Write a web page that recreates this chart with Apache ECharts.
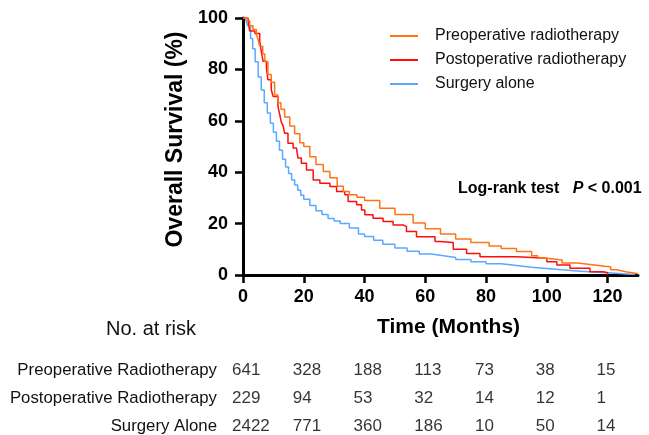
<!DOCTYPE html>
<html>
<head>
<meta charset="utf-8">
<script src="https://cdn.jsdelivr.net/npm/echarts@6/dist/echarts.min.js"></script>
<style>
  html, body { margin: 0; padding: 0; background: #fff; }
  #chart { width: 649px; height: 435px; }
</style>
</head>
<body>
<div id="chart"></div>
<script>
// survival curves (months, %)
const preopTime = [0, 1.5, 2.2, 3.3, 4.4, 5, 5.5, 6.5, 7.2, 8.2, 9.3, 10.4, 11.5, 12.5, 13.7, 15.4, 17, 18.7, 20, 22, 24, 26.4, 28.6, 31, 33, 35, 37.5, 40, 45, 50, 56, 60, 65, 70, 75, 81, 85, 90, 95, 97, 100, 105, 110, 115, 119, 121, 123, 126, 128, 130]
const preopSurv = [100, 99, 97, 95.5, 93.5, 91.5, 89, 86, 83, 78, 75, 70, 67, 64.5, 61.5, 58, 55, 51.5, 50, 46, 43, 40.3, 37.8, 34.5, 32.5, 31.2, 30.3, 29, 26, 23.5, 20.2, 18, 16, 14, 12.6, 11.3, 10.3, 9.1, 7.5, 6.5, 5.8, 4.7, 4, 3.4, 3.2, 2, 1.3, 0.9, 0.5, 0.3]

const postopTime = [0, 1.7, 2.2, 3.9, 5.5, 6.1, 6.6, 7.7, 8.2, 9.3, 9.9, 11.5, 12.1, 12.6, 13.2, 13.7, 14.8, 16.5, 17.6, 18.1, 19.2, 20.9, 23.1, 25.3, 28.6, 30.8, 33.5, 34.6, 37.4, 39, 40.1, 42.8, 46.1, 49.4, 52.7, 53.8, 57.1, 63.2, 64.8, 69.2, 73.6, 78, 90, 100, 103.3, 107.6, 114.2, 118.6, 120]
const postopSurv = [100, 98.8, 94.9, 94, 91, 86.4, 83.2, 80.6, 76, 72.1, 69.5, 65.6, 62.4, 59.5, 58, 55.2, 51.3, 49.4, 48.7, 45.5, 43.5, 40.9, 37, 35.7, 34.4, 32.5, 31.2, 28.6, 27.3, 25.3, 23.4, 22.1, 20.8, 19.5, 18.8, 16.9, 14.9, 13, 12.6, 10, 8.4, 7.1, 6.5, 5.2, 3.9, 2.6, 1.3, 0.9, 0]

const surgTime = [0, 1, 1.5, 2.5, 3.2, 4, 5, 6, 7, 8, 9, 10, 11, 12, 13, 14, 15, 16, 17, 18, 19, 20, 22, 24, 26, 28, 30, 32, 35, 38, 40, 43, 46, 50, 54, 58, 62, 66, 70, 75, 80, 85, 90, 95, 100, 105, 110, 115, 120, 125, 129]
const surgSurv = [100, 99, 97, 92, 88, 83, 77, 72, 67, 63, 59, 55.5, 52, 48.5, 45, 42, 39.5, 37, 35, 33, 31, 29.5, 27, 25, 23.5, 22, 21, 20, 18.3, 16, 15, 13.5, 12, 10.5, 9.2, 8.2, 7.5, 6.8, 6, 5.2, 4.4, 3.7, 3, 2.5, 2, 1.6, 1.2, 0.9, 0.5, 0.2, 0]

// number at risk table
const riskTimes = [0, 20, 40, 60, 80, 100, 120]
const riskGroups = ['Preoperative Radiotherapy', 'Postoperative Radiotherapy', 'Surgery Alone']
const riskPreop = [641, 328, 188, 113, 73, 38, 15]
const riskPostop = [229, 94, 53, 32, 14, 12, 1]
const riskSurgery = [2422, 771, 360, 186, 10, 50, 14]

const xTicks = [0, 20, 40, 60, 80, 100, 120]

const FONT = 'Liberation Sans, Arial, sans-serif'

function pairs(t, s) {
  return t.map((v, i) => [v, s[i]])
}

const riskData = []
;[riskPreop, riskPostop, riskSurgery].forEach((row, r) => {
  row.forEach((n, i) => {
    riskData.push([riskTimes[i], r, n])
  })
})

const chart = echarts.init(document.getElementById('chart'))

chart.setOption({
  animation: false,
  textStyle: { fontFamily: FONT },
  legend: {
    orient: 'vertical',
    left: 385,
    top: 23,
    icon: 'rect',
    itemWidth: 28,
    itemHeight: 2,
    itemGap: 8,
    textStyle: { fontSize: 16, color: '#111', padding: [0, 0, 0, 12] },
    data: ['Preoperative radiotherapy', 'Postoperative radiotherapy', 'Surgery alone']
  },
  grid: [
    { left: 243, top: 18, width: 395, height: 257 },
    { left: 243, top: 370, width: 395, height: 56 }
  ],
  xAxis: [
    {
      type: 'value',
      gridIndex: 0,
      min: 0,
      max: 130,
      name: 'Time (Months)',
      nameLocation: 'middle',
      nameGap: 42,
      nameTextStyle: { fontSize: 21, fontWeight: 'bold', color: '#000', padding: [0, 0, 0, 16] },
      splitLine: { show: false },
      axisLine: { lineStyle: { color: '#000', width: 3 } },
      axisTick: { length: 8, lineStyle: { color: '#000', width: 2.5 }, customValues: xTicks },
      axisLabel: { fontSize: 18, fontWeight: 'bold', color: '#000', margin: 13, customValues: xTicks }
    },
    {
      type: 'value',
      gridIndex: 1,
      min: 0,
      max: 130,
      show: false
    }
  ],
  yAxis: [
    {
      type: 'value',
      gridIndex: 0,
      min: 0,
      max: 100,
      interval: 20,
      name: 'Overall Survival (%)',
      nameLocation: 'middle',
      nameGap: 53,
      nameTextStyle: { fontSize: 23, fontWeight: 'bold', color: '#000', padding: [0, 0, 0, 14] },
      splitLine: { show: false },
      axisLine: { show: true, lineStyle: { color: '#000', width: 3 } },
      axisTick: { show: true, length: 8, lineStyle: { color: '#000', width: 2.5 } },
      axisLabel: { fontSize: 18, fontWeight: 'bold', color: '#000', margin: 15 }
    },
    {
      type: 'category',
      gridIndex: 1,
      inverse: true,
      boundaryGap: false,
      data: riskGroups,
      axisLine: { show: false },
      axisTick: { show: false },
      axisLabel: { fontSize: 16.8, color: '#111', margin: 26 }
    }
  ],
  graphic: [
    {
      type: 'text',
      left: 106,
      top: 319,
      style: { text: 'No. at risk', fontSize: 20, fill: '#111', fontFamily: FONT }
    },
    {
      type: 'text',
      left: 458,
      top: 181,
      style: {
        text: '{b|Log-rank test   }{i|P}{b| < 0.001}',
        fontFamily: FONT,
        rich: {
          b: { fontSize: 16, fontWeight: 'bold', fill: '#000', fontFamily: FONT },
          i: { fontSize: 16, fontWeight: 'bold', fontStyle: 'italic', fill: '#000', fontFamily: FONT }
        }
      }
    }
  ],
  series: [
    {
      name: 'Surgery alone',
      type: 'line',
      step: 'end',
      symbol: 'none',
      color: '#5aa8ff',
      lineStyle: { width: 1.5 },
      data: pairs(surgTime, surgSurv)
    },
    {
      name: 'Postoperative radiotherapy',
      type: 'line',
      step: 'end',
      symbol: 'none',
      color: '#ff0d0d',
      lineStyle: { width: 1.5 },
      data: pairs(postopTime, postopSurv)
    },
    {
      name: 'Preoperative radiotherapy',
      type: 'line',
      step: 'end',
      symbol: 'none',
      color: '#ff7417',
      lineStyle: { width: 1.5 },
      data: pairs(preopTime, preopSurv)
    },
    {
      name: 'risk',
      type: 'scatter',
      xAxisIndex: 1,
      yAxisIndex: 1,
      symbolSize: 2,
      itemStyle: { color: 'rgba(0,0,0,0)' },
      label: {
        show: true,
        position: 'inside',
        align: 'left',
        offset: [-11, 0],
        fontSize: 17,
        color: '#000',
        formatter: p => String(p.value[2])
      },
      data: riskData
    }
  ]
})
</script>
</body>
</html>
